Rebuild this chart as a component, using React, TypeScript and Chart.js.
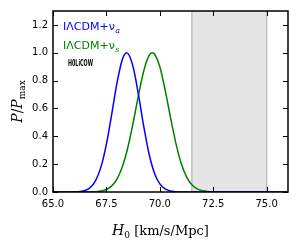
import React, { useEffect, useRef } from "react";
import { Chart, registerables } from "chart.js";

Chart.register(...registerables);

const blueX = [65.0, 65.5, 66.0, 66.25, 66.5, 66.75, 67.0, 67.25, 67.5, 67.75, 68.0, 68.25, 68.45, 68.75, 69.0, 69.25, 69.5, 69.75, 70.0, 70.25, 70.5, 70.75, 71.0, 71.5, 72.0, 76.0];
const blueY = [0, 0.00003, 0.0008, 0.0033, 0.011, 0.0327, 0.083, 0.182, 0.344, 0.56, 0.787, 0.954, 1.0, 0.899, 0.699, 0.469, 0.271, 0.135, 0.058, 0.0216, 0.0069, 0.0019, 0.00045, 0.00001, 0, 0];
const greenX = [65.0, 66.0, 66.5, 66.75, 67.0, 67.25, 67.5, 67.75, 68.0, 68.25, 68.5, 68.75, 69.0, 69.25, 69.5, 69.65, 69.75, 70.0, 70.25, 70.5, 70.75, 71.0, 71.25, 71.5, 71.75, 72.0, 72.25, 72.5, 72.75, 73.0, 73.5, 76.0];
const greenY = [0, 0.00001, 0.00019, 0.00069, 0.0023, 0.0068, 0.0183, 0.0439, 0.0947, 0.183, 0.318, 0.496, 0.694, 0.871, 0.981, 1.0, 0.991, 0.899, 0.732, 0.535, 0.351, 0.206, 0.109, 0.0517, 0.022, 0.0084, 0.0029, 0.00088, 0.00024, 0.00005, 0, 0];
const bandRange = [71.5, 75.0];
const xTicks = [65.0, 67.5, 70.0, 72.5, 75.0];
const yTicks = [0.0, 0.2, 0.4, 0.6, 0.8, 1.0, 1.2];
const seriesNames = ["IΛCDM+ν", "IΛCDM+ν"];
const seriesSubs = ["a", "s"];
const seriesColors = ["#0000ff", "#008000"];
const noteText = "H0LiCOW";
const notePos = [65.7, 0.92];

const decorPlugin = {
  id: "decor",
  beforeDatasetsDraw(chart: any) {
    const { ctx, chartArea: a, scales } = chart;
    const x = scales.x;
    const x0 = x.getPixelForValue(bandRange[0]);
    const x1 = x.getPixelForValue(bandRange[1]);
    ctx.save();
    ctx.fillStyle = "#e5e5e5";
    ctx.fillRect(x0, a.top, x1 - x0, a.bottom - a.top);
    ctx.strokeStyle = "#bdbdbd";
    ctx.lineWidth = 1.5;
    ctx.beginPath();
    ctx.moveTo(x0, a.top);
    ctx.lineTo(x0, a.bottom);
    ctx.moveTo(x1, a.top);
    ctx.lineTo(x1, a.bottom);
    ctx.stroke();
    ctx.restore();
  },
  afterDraw(chart: any) {
    const { ctx, chartArea: a, scales } = chart;
    const x = scales.x;
    const y = scales.y;
    ctx.save();
    ctx.strokeStyle = "#000";
    ctx.lineWidth = 1.5;
    ctx.strokeRect(a.left, a.top, a.right - a.left, a.bottom - a.top);
    ctx.lineWidth = 1;
    ctx.beginPath();
    const tl = 5;
    xTicks.forEach((v) => {
      const px = Math.round(x.getPixelForValue(v)) + 0.5;
      ctx.moveTo(px, a.bottom);
      ctx.lineTo(px, a.bottom - tl);
      ctx.moveTo(px, a.top);
      ctx.lineTo(px, a.top + tl);
    });
    yTicks.forEach((v) => {
      const py = Math.round(y.getPixelForValue(v)) + 0.5;
      ctx.moveTo(a.left, py);
      ctx.lineTo(a.left + tl, py);
      ctx.moveTo(a.right, py);
      ctx.lineTo(a.right - tl, py);
    });
    ctx.stroke();

    ctx.textBaseline = "alphabetic";
    seriesNames.forEach((n, i) => {
      const bx = a.left + 10;
      const by = a.top + 19 + i * 19;
      ctx.fillStyle = seriesColors[i];
      ctx.font = "11px 'DejaVu Sans'";
      ctx.fillText(n, bx, by);
      const w = ctx.measureText(n).width;
      ctx.font = "italic 8px 'DejaVu Serif'";
      ctx.fillText(seriesSubs[i], bx + w + 0.5, by + 2.5);
    });

    // note
    ctx.fillStyle = "#000";
    ctx.font = "bold 9px 'DejaVu Sans Condensed'";
    ctx.textBaseline = "middle";
    const nx = x.getPixelForValue(notePos[0]);
    const ny = y.getPixelForValue(notePos[1]);
    const nw = ctx.measureText(noteText).width;
    ctx.save();
    ctx.translate(nx, ny);
    ctx.scale(25 / nw, 1);
    ctx.fillText(noteText, 0, 0);
    ctx.restore();

    ctx.textBaseline = "alphabetic";
    const parts: [string, string, number][] = [
      ["H", "italic 14px 'DejaVu Serif'", 0],
      ["0", "9px 'DejaVu Serif'", 3],
      [" [km/s/Mpc]", "13px 'DejaVu Serif'", 0],
    ];
    let tw = 0;
    parts.forEach((p) => {
      ctx.font = p[1];
      tw += ctx.measureText(p[0]).width;
    });
    let cx = (a.left + a.right) / 2 - tw / 2 - 10;
    const ty = 235;
    parts.forEach((p) => {
      ctx.font = p[1];
      ctx.fillText(p[0], cx, ty + p[2]);
      cx += ctx.measureText(p[0]).width;
    });

    ctx.translate(22, (a.top + a.bottom) / 2);
    ctx.rotate(-Math.PI / 2);
    const yparts: [string, string, number][] = [
      ["P", "italic 14px 'DejaVu Serif'", 0],
      ["/", "14px 'DejaVu Serif'", 0],
      ["P", "italic 14px 'DejaVu Serif'", 0],
      ["max", "9px 'DejaVu Serif'", 3],
    ];
    let yw = 0;
    yparts.forEach((p) => {
      ctx.font = p[1];
      yw += ctx.measureText(p[0]).width;
    });
    let yx = -yw / 2;
    yparts.forEach((p) => {
      ctx.font = p[1];
      ctx.fillText(p[0], yx, p[2]);
      yx += ctx.measureText(p[0]).width;
    });
    ctx.restore();
  },
};

export default function App() {
  const ref = useRef<HTMLCanvasElement>(null);
  useEffect(() => {
    document.body.style.margin = "0";
    const c = ref.current!;
    const chart = new Chart(c, {
      type: "line",
      data: {
        datasets: [
          {
            data: blueX.map((v, i) => ({ x: v, y: blueY[i] })),
            borderColor: seriesColors[0],
            borderWidth: 1.5,
            pointRadius: 0,
            cubicInterpolationMode: "monotone",
            fill: false,
          },
          {
            data: greenX.map((v, i) => ({ x: v, y: greenY[i] })),
            borderColor: seriesColors[1],
            borderWidth: 1.5,
            pointRadius: 0,
            cubicInterpolationMode: "monotone",
            fill: false,
          },
        ],
      },
      options: {
        responsive: false,
        animation: false,
        events: [],
        layout: { padding: { top: 10, right: 11, left: 0, bottom: 0 } },
        plugins: { legend: { display: false }, tooltip: { enabled: false } },
        scales: {
          x: {
            type: "linear",
            min: 65,
            max: 76,
            afterBuildTicks: (s: any) => {
              s.ticks = xTicks.map((v) => ({ value: v }));
            },
            afterFit: (s: any) => {
              s.height = 53;
            },
            grid: { display: false, drawTicks: false },
            border: { display: false },
            ticks: {
              color: "#000",
              font: { family: "'DejaVu Sans'", size: 10 },
              padding: 6,
              maxRotation: 0,
              autoSkip: false,
              callback: (v: any) => Number(v).toFixed(1),
            },
          },
          y: {
            type: "linear",
            min: 0,
            max: 1.3,
            afterBuildTicks: (s: any) => {
              s.ticks = yTicks.map((v) => ({ value: v }));
            },
            afterFit: (s: any) => {
              s.width = 53;
            },
            grid: { display: false, drawTicks: false },
            border: { display: false },
            ticks: {
              color: "#000",
              font: { family: "'DejaVu Sans'", size: 10 },
              padding: 5,
              autoSkip: false,
              callback: (v: any) => Number(v).toFixed(1),
            },
          },
        },
      },
      plugins: [decorPlugin],
    } as any);
    return () => chart.destroy();
  }, []);
  return <canvas ref={ref} width={299} height={245} style={{ display: "block" }} />;
}
